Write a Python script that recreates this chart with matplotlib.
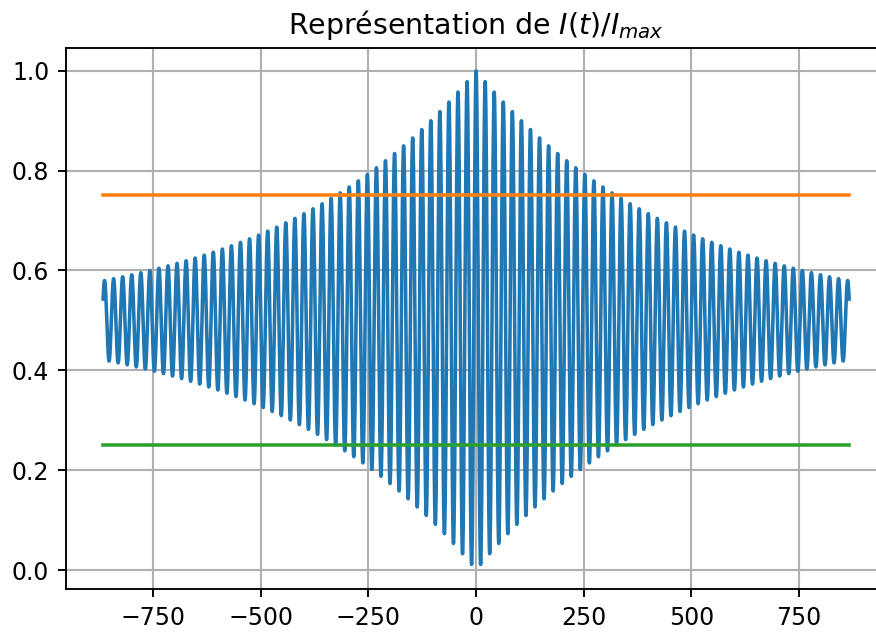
import matplotlib
matplotlib.use("Agg")
import matplotlib.pyplot as plt
import numpy as np

# values
t_max = 866.0          # half width of the time window
period = 21.04         # spacing between fringes
tau = 470.0            # decay of the fringe contrast
n_points = 6000
levels = [0.75, 0.25]  # orange and green reference lines
level_colors = ["C1", "C2"]
x_ticks = [-750, -500, -250, 0, 250, 500, 750]
y_ticks = [0.0, 0.2, 0.4, 0.6, 0.8, 1.0]

t = np.linspace(-t_max, t_max, n_points)
intensity = 0.5 * (1 + np.exp(-np.abs(t) / tau) * np.cos(2 * np.pi * t / period))

dpi = 170
fig = plt.figure(figsize=(876 / dpi, 634 / dpi), dpi=dpi)
ax = fig.add_axes([0.0751, 0.0710, 0.9368, 0.8538])

ax.plot(t, intensity, color="C0", lw=1.5)
for lev, col in zip(levels, level_colors):
    ax.plot([t[0], t[-1]], [lev, lev], color=col, lw=1.5)

ax.set_xlim(-1.1 * t_max, 1.1 * t_max)
ax.set_ylim(-0.038, 1.046)
ax.set_xticks(x_ticks)
ax.set_yticks(y_ticks)
ax.grid(True, lw=0.9)
ax.set_title(r"Représentation de $I(t)/I_{max}$")

fig.savefig("out.png", dpi=dpi)
